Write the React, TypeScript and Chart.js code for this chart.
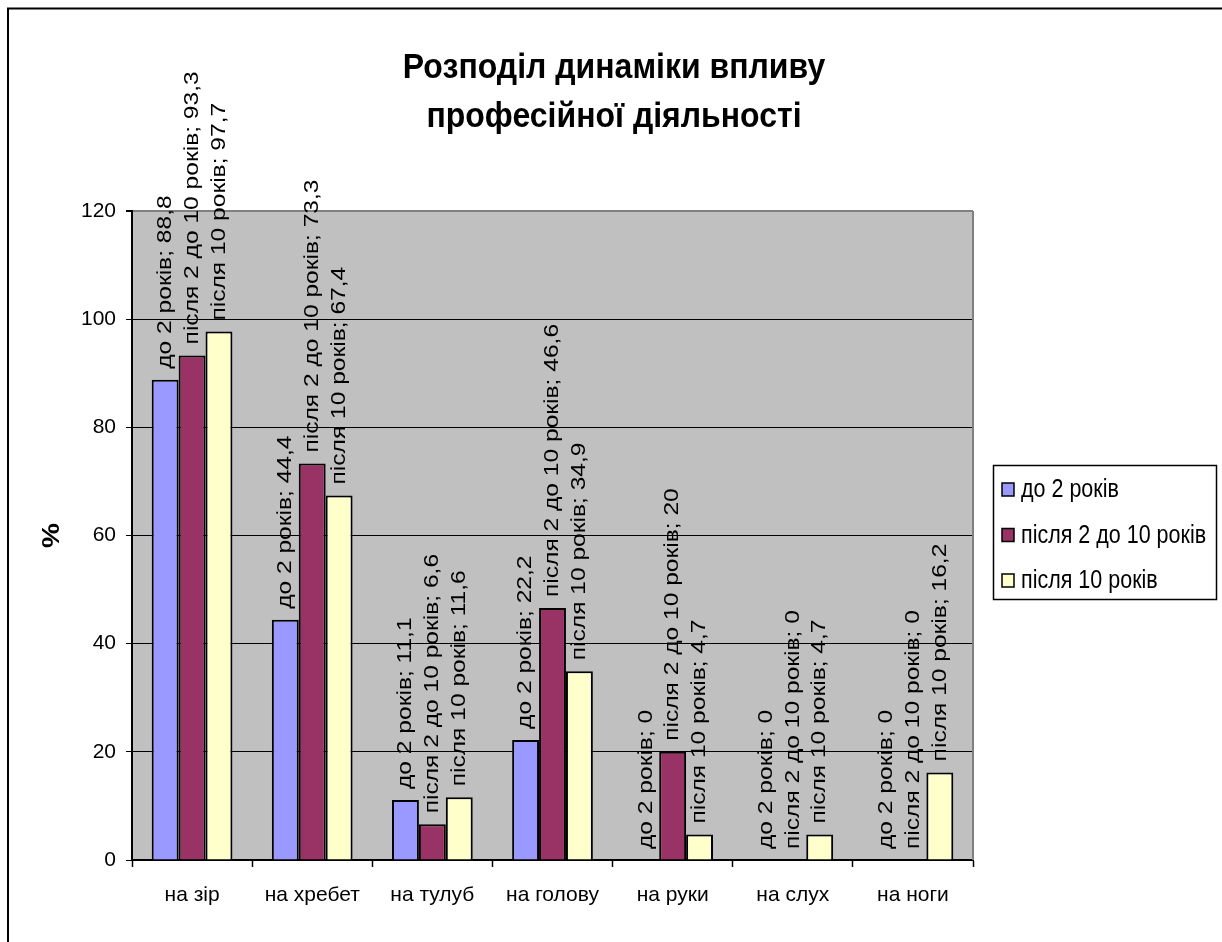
import React, { useEffect, useRef } from "react";
import { Chart, registerables } from "chart.js";

Chart.register(...registerables);

const categories = ["на зір", "на хребет", "на тулуб", "на голову", "на руки", "на слух", "на ноги"];
const seriesNames = ["до 2 років", "після 2 до 10 років", "після 10 років"];
const seriesUpTo2 = [88.8, 44.4, 11.1, 22.2, 0, 0, 0];
const series2to10 = [93.3, 73.3, 6.6, 46.6, 20, 0, 0];
const seriesOver10 = [97.7, 67.4, 11.6, 34.9, 4.7, 4.7, 16.2];
const seriesColors = ["#9999FF", "#993366", "#FFFFCC"];
const yTicks = [0, 20, 40, 60, 80, 100, 120];
const titleLines = ["Розподіл динаміки впливу", "професійної діяльності"];
const yAxisTitle = "%";

const FONT = 'Arial, "Liberation Sans", sans-serif';
const STRETCH = 1.17;

const fmt = (v: number) => String(v).replace(".", ",");

const decorPlugin = {
  id: "decor",
  beforeDraw(chart: any) {
    const { ctx, chartArea: a } = chart;
    ctx.save();
    ctx.fillStyle = "#ffffff";
    ctx.fillRect(0, 0, chart.width, chart.height);
    ctx.fillStyle = "#C0C0C0";
    ctx.fillRect(a.left, a.top, a.right - a.left, a.bottom - a.top);
    ctx.restore();
  },
  afterDatasetsDraw(chart: any) {
    const { ctx } = chart;
    ctx.save();
    ctx.fillStyle = "#000";
    ctx.font = `21px ${FONT}`;
    ctx.textAlign = "left";
    ctx.textBaseline = "middle";
    chart.data.datasets.forEach((ds: any, i: number) => {
      const meta = chart.getDatasetMeta(i);
      meta.data.forEach((el: any, j: number) => {
        const text = `${ds.label}; ${fmt(ds.data[j])}`;
        ctx.save();
        ctx.translate(el.x, el.y - 11);
        ctx.rotate(-Math.PI / 2);
        ctx.scale(STRETCH, 1);
        ctx.fillText(text, 0, 0);
        ctx.restore();
      });
    });
    ctx.restore();
  },
  afterDraw(chart: any) {
    const { ctx, chartArea: a } = chart;
    ctx.save();
    // right border of plot
    ctx.strokeStyle = "#808080";
    ctx.lineWidth = 2;
    ctx.beginPath();
    ctx.moveTo(a.right, a.top);
    ctx.lineTo(a.right, a.bottom);
    ctx.stroke();
    // outer frame
    ctx.strokeStyle = "#000";
    ctx.lineWidth = 2;
    ctx.strokeRect(8, 8.5, 1400, 1200);
    // title
    ctx.fillStyle = "#000";
    ctx.font = `bold 32px ${FONT}`;
    ctx.textAlign = "center";
    ctx.textBaseline = "alphabetic";
    const baselines = [78, 127];
    titleLines.forEach((t, i) => {
      ctx.save();
      ctx.translate(614, baselines[i]);
      ctx.scale(1, 1.12);
      ctx.fillText(t, 0, 0);
      ctx.restore();
    });
    // y axis title
    ctx.save();
    ctx.font = `bold 24px ${FONT}`;
    ctx.textAlign = "center";
    ctx.textBaseline = "middle";
    ctx.translate(52, (a.top + a.bottom) / 2);
    ctx.rotate(-Math.PI / 2);
    ctx.scale(STRETCH, 1);
    ctx.fillText(yAxisTitle, 0, 0);
    ctx.restore();
    // legend
    ctx.lineWidth = 1.5;
    ctx.strokeStyle = "#000";
    ctx.strokeRect(993.5, 465.5, 223, 134);
    const rows = [489.5, 535, 580.5];
    ctx.font = `21.5px ${FONT}`;
    ctx.textAlign = "left";
    ctx.textBaseline = "middle";
    chart.data.datasets.forEach((ds: any, i: number) => {
      const cy = rows[i];
      ctx.fillStyle = ds.backgroundColor;
      ctx.fillRect(1002, cy - 6.5, 12, 13);
      ctx.strokeRect(1002, cy - 6.5, 12, 13);
      ctx.fillStyle = "#000";
      ctx.save();
      ctx.translate(1021, cy + 1);
      ctx.scale(1, STRETCH);
      ctx.fillText(ds.label, 0, 0);
      ctx.restore();
    });
    ctx.restore();
  },
};

export default function App() {
  const ref = useRef<HTMLCanvasElement | null>(null);
  useEffect(() => {
    if (!ref.current) return;
    const seriesData = [seriesUpTo2, series2to10, seriesOver10];
    const chart = new Chart(ref.current, {
      type: "bar",
      data: {
        labels: categories,
        datasets: seriesNames.map((name, i) => ({
          label: name,
          data: seriesData[i],
          backgroundColor: seriesColors[i],
          borderColor: "#000",
          borderWidth: 2,
          categoryPercentage: 0.672,
          barPercentage: 1,
        })),
      },
      options: {
        responsive: false,
        animation: false,
        devicePixelRatio: 1,
        layout: { padding: { top: 211, right: 249, left: 0, bottom: 0 } },
        plugins: {
          legend: { display: false },
          title: { display: false },
          tooltip: { enabled: false },
        },
        scales: {
          x: {
            offset: true,
            grid: {
              display: true,
              offset: true,
              drawOnChartArea: false,
              drawTicks: true,
              tickLength: 7,
              tickColor: "#000",
              tickWidth: 1.5,
            },
            border: { display: true, color: "#000", width: 2 },
            ticks: {
              color: "#000",
              font: { family: FONT, size: 21 },
              padding: 16,
              maxRotation: 0,
              autoSkip: false,
            },
            afterFit: (s: any) => {
              s.height = 82;
            },
          },
          y: {
            min: 0,
            max: 120,
            afterBuildTicks: (s: any) => {
              s.ticks = yTicks.map((v) => ({ value: v }));
            },
            grid: {
              color: (c: any) => (c.tick && c.tick.value === 120 ? "#808080" : "#000"),
              lineWidth: (c: any) => (c.tick && c.tick.value === 120 ? 2 : 1),
              tickLength: 6,
              tickColor: "#000",
            },
            border: { display: true, color: "#000", width: 2 },
            ticks: {
              color: "#000",
              font: { family: FONT, size: 21 },
              padding: 10,
            },
            afterFit: (s: any) => {
              s.width = 132;
            },
          },
        },
      },
      plugins: [decorPlugin],
    });
    return () => chart.destroy();
  }, []);
  return (
    <canvas
      ref={ref}
      width={1222}
      height={942}
      style={{ position: "fixed", left: 0, top: 0, width: 1222, height: 942 }}
    />
  );
}
